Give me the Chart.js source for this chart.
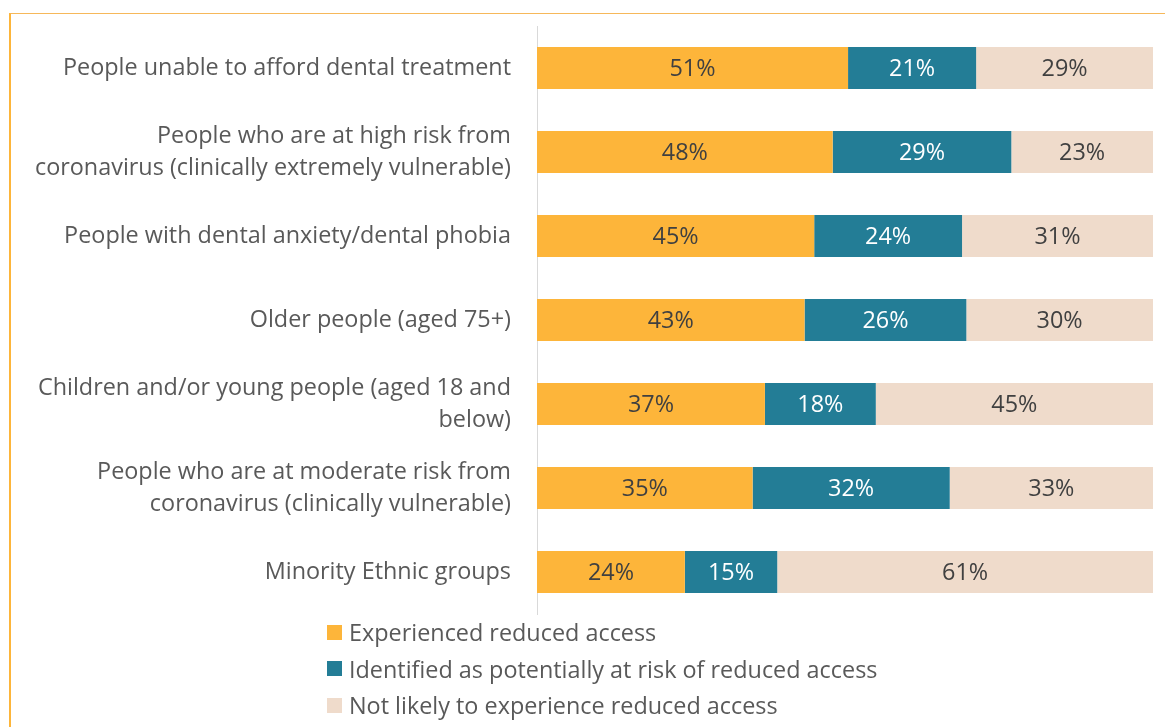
<!DOCTYPE html>
<html>
<head>
<meta charset="utf-8">
<script src="https://cdn.jsdelivr.net/npm/chart.js@4/dist/chart.umd.min.js"></script>
<style>
  html, body { margin: 0; padding: 0; overflow: hidden; background: #fff; }
  #wrap { position: relative; width: 1165px; height: 727px; }
  #frame { position: absolute; left: 9px; top: 13px; width: 1160px; height: 720px;
           border-left: 2px solid #FDB53A; border-top: 1px solid #F6B85A; }
  #chart { position: absolute; left: 0; top: 0; }
  #legend { position: absolute; left: 327px; top: 614px; font-family: "Open Sans", sans-serif;
            font-size: 23.4px; color: #595959; }
  #legend div { height: 36.5px; display: flex; align-items: center; white-space: nowrap; }
  #legend span { display: inline-block; width: 15px; height: 15px; margin-right: 7px; }
</style>
</head>
<body>
<div id="wrap">
  <div id="frame"></div>
  <canvas id="chart" width="1165" height="727"></canvas>
  <div id="legend"></div>
</div>
<script>
const categorias = [
  "People unable to afford dental treatment",
  ["People who are at high risk from", "coronavirus (clinically extremely vulnerable)"],
  "People with dental anxiety/dental phobia",
  "Older people (aged 75+)",
  ["Children and/or young people (aged 18 and", "below)"],
  ["People who are at moderate risk from", "coronavirus (clinically vulnerable)"],
  "Minority Ethnic groups"
];
const reduzido = [51, 48, 45, 43, 37, 35, 24];
const emRisco = [21, 29, 24, 26, 18, 32, 15];
const naoProvavel = [29, 23, 31, 30, 45, 33, 61];

const nomesSeries = [
  "Experienced reduced access",
  "Identified as potentially at risk of reduced access",
  "Not likely to experience reduced access"
];
const cores = ["#FDB53A", "#237D96", "#EFDBCB"];
const coresTexto = ["#404040", "#ffffff", "#404040"];
const fonte = "'Open Sans', sans-serif";

// 100% stacked: each row is scaled to its own total
const series = [reduzido, emRisco, naoProvavel];
const totais = reduzido.map((v, i) => v + emRisco[i] + naoProvavel[i]);

const rotulos = {
  id: "rotulos",
  afterDatasetsDraw(chart) {
    const ctx = chart.ctx;
    ctx.save();
    ctx.font = "23.4px " + fonte;
    ctx.textAlign = "center";
    ctx.textBaseline = "middle";
    chart.data.datasets.forEach((ds, d) => {
      chart.getDatasetMeta(d).data.forEach((el, i) => {
        ctx.fillStyle = coresTexto[d];
        ctx.fillText(series[d][i] + "%", (el.x + el.base) / 2, el.y + 1);
      });
    });
    ctx.restore();
  }
};

const ctx = document.getElementById("chart");
window.myChart = new Chart(ctx, {
  type: "bar",
  data: {
    labels: categorias,
    datasets: series.map((s, d) => ({
      label: nomesSeries[d],
      data: s.map((v, i) => v / totais[i] * 100),
      backgroundColor: cores[d],
      borderWidth: 0,
      barPercentage: 0.5,
      categoryPercentage: 1
    }))
  },
  options: {
    indexAxis: "y",
    responsive: false,
    animation: false,
    layout: { padding: { top: 26, right: 12, bottom: 113, left: 0 } },
    plugins: { legend: { display: false }, tooltip: { enabled: false } },
    scales: {
      x: { stacked: true, display: false, min: 0, max: 100 },
      y: {
        stacked: true,
        grid: { display: false },
        border: { color: "#D9D9D9", width: 1 },
        ticks: {
          color: "#595959",
          padding: 18,
          font: { family: fonte, size: 23.4, lineHeight: 1.37 }
        },
        afterFit(scale) {
          scale.width = 537;
          scale.paddingTop = 0;
          scale.paddingBottom = 0;
        }
      }
    }
  },
  plugins: [rotulos]
});

const legenda = document.getElementById("legend");
nomesSeries.forEach((n, d) => {
  const item = document.createElement("div");
  item.innerHTML = '<span style="background:' + cores[d] + '"></span>' + n;
  legenda.appendChild(item);
});
</script>
</body>
</html>
